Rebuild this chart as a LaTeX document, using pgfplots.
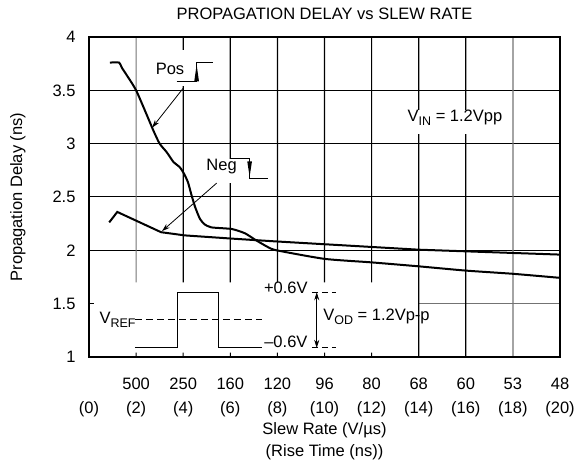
\documentclass[border=0pt]{standalone}
\usepackage{fontspec}
\setmainfont{Liberation Sans}
\usepackage{pgfplots}
\pgfplotsset{compat=1.18}
\usetikzlibrary{arrows.meta}
\newcommand{\fs}{\fontsize{16.5}{20}\selectfont}
\newcommand{\sub}[1]{\raisebox{-0.45ex}{\fontsize{12.5}{12}\selectfont #1}}
\begin{document}
\begin{tikzpicture}
\begin{axis}[
  scale only axis, width=471pt, height=320pt,
  xmin=0, xmax=20, ymin=1, ymax=4,
  axis line style={line width=1.8pt},
  ymajorgrids, major grid style={line width=1pt, black},
  major tick length=0pt,
  xtick={0,2,...,20},
  xticklabels={{\phantom{0}\\(0)},{500\\(2)},{250\\(4)},{160\\(6)},{120\\(8)},{96\\(10)},{80\\(12)},{68\\(14)},{60\\(16)},{53\\(18)},{48\\(20)}},
  xticklabel style={align=center, font=\fontsize{16.5}{24}\selectfont, yshift=-17pt},
  ytick={1,1.5,2,2.5,3,3.5,4},
  yticklabels={1,1.5,2,2.5,3,3.5,4},
  yticklabel style={font=\fs, xshift=-10pt},
  title={PROPAGATION DELAY vs SLEW RATE},
  title style={at={(axis description cs:0.5,1.053)}, anchor=center, font=\fs},
  xlabel={Slew Rate (V/µs)\\(Rise Time (ns))},
  xlabel style={at={(axis description cs:0.5,-0.2625)}, anchor=center, align=center, font=\fontsize{16.5}{22}\selectfont},
  ylabel={Propagation Delay (ns)},
  ylabel style={at={(axis description cs:-0.151,0.5)}, anchor=center, font=\fs},
  clip=false,
]
% cleared region at lower left
\fill[white] (axis cs:0.23,1.3) rectangle (axis cs:13.95,1.7);
\draw[line width=1pt, black!55] (axis cs:14,1.5) -- (axis cs:20,1.5);
\draw[line width=1pt] (axis cs:0,1.5) -- (axis cs:0.21,1.5);
% vertical grid lines (slightly off-integer positions)
\draw[line width=1.2pt] (axis cs:4.0004,1.7) -- (axis cs:4.0006,3.99);
\draw[line width=1.2pt] (axis cs:6.0004,1.7) -- (axis cs:6.0006,3.99);
\draw[line width=1.2pt] (axis cs:8.0004,1.7) -- (axis cs:8.0006,3.99);
\draw[line width=1.2pt] (axis cs:10.0004,1.7) -- (axis cs:10.0006,3.99);
\draw[line width=1.2pt] (axis cs:12.0004,1.7) -- (axis cs:12.0006,3.99);
\draw[line width=1.2pt, black!55] (axis cs:2.0004,1.7) -- (axis cs:2.0006,3.99);
\draw[line width=1.2pt] (axis cs:14.0004,1.01) -- (axis cs:14.0006,3.99);
\draw[line width=1.2pt] (axis cs:16.0004,1.01) -- (axis cs:16.0006,3.99);
\draw[line width=1.2pt, black!55] (axis cs:18.0004,1.01) -- (axis cs:18.0006,3.99);
% small ticks
\draw[line width=1pt] (axis cs:2.0004,1.01) -- (axis cs:2.0006,1.04);
\draw[line width=1pt] (axis cs:4.0004,1.01) -- (axis cs:4.0006,1.04);
\draw[line width=1pt] (axis cs:6.0004,1.01) -- (axis cs:6.0006,1.04);
\draw[line width=1pt] (axis cs:8.0004,1.01) -- (axis cs:8.0006,1.04);
\draw[line width=1pt] (axis cs:10.0004,1.01) -- (axis cs:10.0006,1.04);
\draw[line width=1pt] (axis cs:12.0004,1.01) -- (axis cs:12.0006,1.04);
% label boxes
\fill[white] (axis cs:2.59,3.544) rectangle (axis cs:5.39,3.88);
\fill[white] (axis cs:4.93,2.635) rectangle (axis cs:7.62,2.86);
\fill[white] (axis cs:13.3,3.09) rectangle (axis cs:17.8,3.32);
% Pos label
\node[font=\fs] at (axis cs:3.44,3.70) {Pos};
\draw[line width=1.1pt] (axis cs:3.72,3.584) -- (axis cs:4.57,3.584) -- (axis cs:4.57,3.764) -- (axis cs:5.28,3.764);
\fill (axis cs:4.47,3.584) -- (axis cs:4.67,3.584) -- (axis cs:4.57,3.74) -- cycle;
\draw[line width=0.8pt, -{Stealth[length=8pt,width=5pt]}] (axis cs:4.0,3.52) -- (axis cs:2.68,3.15);
% Neg label
\node[font=\fs] at (axis cs:5.63,2.79) {Neg};
\draw[line width=1.1pt] (axis cs:6.0,2.857) -- (axis cs:6.82,2.857) -- (axis cs:6.82,2.67) -- (axis cs:7.6,2.67);
\fill (axis cs:6.72,2.834) -- (axis cs:6.92,2.834) -- (axis cs:6.82,2.69) -- cycle;
\draw[line width=0.8pt, -{Stealth[length=8pt,width=5pt]}] (axis cs:5.42,2.63) -- (axis cs:3.1,2.18);
% VIN
\node[font=\fs] at (axis cs:15.54,3.24) {V\sub{IN} = 1.2Vpp};
% pulse annotation
\node[font=\fs, anchor=west] at (axis cs:0.3,1.35) {V\sub{REF}};
\draw[line width=1pt, dash pattern=on 7pt off 4pt] (axis cs:1.95,1.348) -- (axis cs:7.33,1.348);
\draw[line width=1.1pt] (axis cs:1.95,1.085) -- (axis cs:3.75,1.085) -- (axis cs:3.75,1.607) -- (axis cs:5.49,1.607) -- (axis cs:5.49,1.085) -- (axis cs:7.33,1.085);
\node[font=\fs] at (axis cs:8.36,1.648) {+0.6V};
\node[font=\fs] at (axis cs:8.36,1.138) {\textendash0.6V};
\draw[line width=1pt, dash pattern=on 6pt off 4pt] (axis cs:9.46,1.607) -- (axis cs:10.5,1.607);
\draw[line width=1pt, dash pattern=on 6pt off 4pt] (axis cs:9.46,1.085) -- (axis cs:10.5,1.085);
\draw[line width=0.8pt, {Stealth[length=8pt,width=5pt]}-{Stealth[length=8pt,width=5pt]}] (axis cs:9.67,1.607) -- (axis cs:9.67,1.085);
\node[font=\fs, anchor=west] at (axis cs:9.8,1.38) {V\sub{OD} = 1.2Vp-p};
% Pos curve
\addplot[line width=2pt, black, smooth, tension=0.35] coordinates {
(0.89,3.76) (1.28,3.76) (1.4,3.71) (2.0,3.5) (2.73,3.125) (3.0,3.0) (3.3,2.92) (3.58,2.83) (3.85,2.78) (4.03,2.72) (4.2,2.64) (4.35,2.52) (4.5,2.41) (4.7,2.30) (4.9,2.245) (5.2,2.215) (6.06,2.2) (6.62,2.16) (7.05,2.10) (7.6,2.03) (7.97,2.0) (10,1.92) (12,1.887) (14,1.85) (16,1.81) (18,1.78) (20,1.742)
};
% Neg curve
\addplot[line width=2pt, black] coordinates {
(0.86,2.262) (1.20,2.36) (3.06,2.17) (4.07,2.14) (6.06,2.11) (7.9,2.084) (14,2.006) (20,1.96)
};
\draw[line width=1.8pt] (rel axis cs:0,0) rectangle (rel axis cs:1,1);
\coordinate (SW) at (rel axis cs:0,0);
\coordinate (NE) at (rel axis cs:1,1);
\end{axis}
\pgfresetboundingbox
\path ([shift={(-89pt,-105pt)}]SW) rectangle ([shift={(25pt,37pt)}]NE);
\end{tikzpicture}
\end{document}
